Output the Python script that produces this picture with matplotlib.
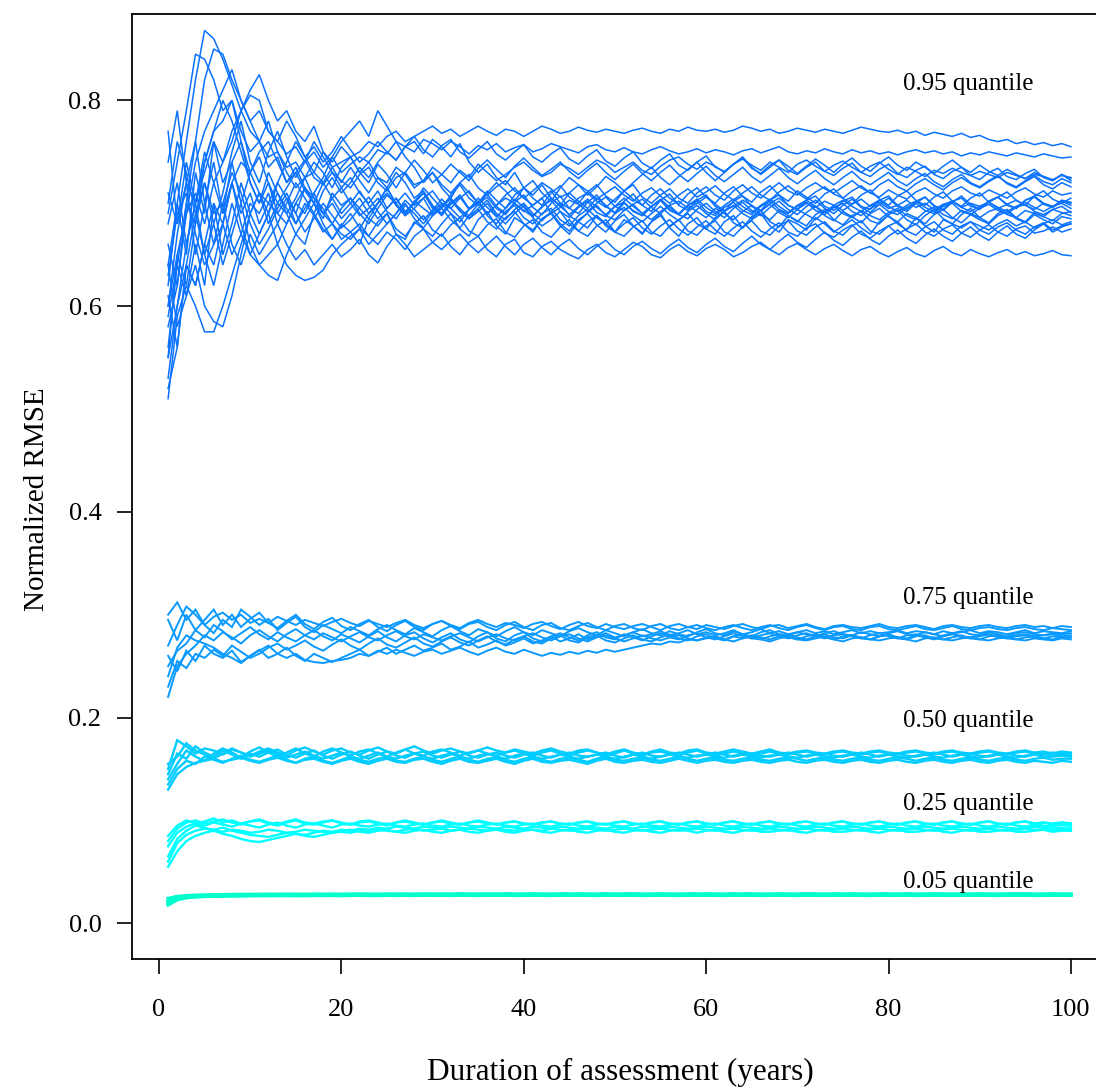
import matplotlib
matplotlib.use("Agg")
import matplotlib.pyplot as plt
import numpy as np

plt.rcParams['font.family'] = ['Liberation Serif', 'DejaVu Serif']

# values, in thousandths (0.05 band in ten-thousandths)
q95_lines = [
    [640, 700, 760, 820, 868, 860, 840, 815, 790, 770,
     760, 745, 750, 735, 740, 725, 730, 720, 735, 740,
     745, 750, 760, 755, 765, 770, 760, 765, 770, 775,
     768, 772, 765, 770, 775, 770, 766, 772, 770, 765,
     770, 775, 772, 768, 770, 774, 771, 769, 772, 770,
     768, 771, 773, 770, 768, 772, 770, 774, 771, 770,
     772, 769, 771, 775, 773, 770, 772, 768, 770, 773,
     771, 769, 772, 770, 768, 771, 774, 772, 770, 769,
     771, 768, 770, 766, 769, 767, 765, 768, 764, 766,
     762, 760, 762, 758, 760, 757, 759, 756, 758, 755],
    [580, 620, 700, 760, 820, 850, 845, 820, 800, 780,
     790, 770, 760, 748, 755, 740, 750, 735, 745, 730,
     738, 745, 740, 752, 748, 760, 755, 750, 762, 758,
     752, 760, 755, 748, 756, 752, 758, 750, 754, 757,
     750, 753, 758, 755, 752, 749, 755, 757, 752, 750,
     754, 750, 748, 752, 755, 751, 748, 750, 753, 749,
     752, 750, 747, 751, 753, 749, 752, 755, 750, 748,
     751, 749, 753, 750, 748, 752, 749, 751, 748, 750,
     747, 750, 752, 749, 751, 748, 750, 746, 749, 747,
     750, 748, 746, 749, 747, 745, 748, 746, 744, 745],
    [690, 740, 790, 845, 840, 820, 790, 800, 770, 750,
     760, 735, 745, 720, 730, 742, 725, 718, 730, 722,
     715, 728, 735, 720, 712, 725, 730, 718, 722, 735,
     728, 720, 732, 725, 738, 730, 722, 728, 735, 740,
     732, 726, 730, 738, 734, 728, 735, 742, 738, 730,
     735, 740, 732, 728, 736, 742, 745, 738, 733, 740,
     736, 730, 738, 743, 737, 732, 740, 735, 730, 738,
     742, 736, 731, 737, 741, 735, 730, 736, 740, 733,
     728, 735, 731, 726, 732, 729, 734, 730, 727, 731,
     728, 725, 730, 727, 724, 728, 726, 723, 727, 725],
    [510, 590, 620, 600, 575, 575, 600, 630, 660, 690,
     710, 700, 690, 705, 680, 695, 710, 690, 700, 685,
     695, 705, 690, 700, 715, 698, 688, 702, 710, 695,
     690, 700, 708, 695, 702, 690, 698, 705, 700, 692,
     698, 705, 690, 696, 703, 699, 692, 700, 706, 697,
     693, 699, 704, 696, 690, 698, 702, 695, 700, 706,
     699, 693, 697, 703, 698, 692, 700, 705, 698, 694,
     700, 696, 702, 698, 693, 699, 704, 697, 701, 695,
     698, 703, 696, 700, 694, 699, 702, 696, 700, 697,
     701, 695, 699, 703, 698, 694, 700, 697, 702, 698],
    [770, 680, 720, 650, 700, 740, 690, 720, 680, 650,
     640, 630, 625, 650, 670, 660, 690, 675, 665, 680,
     672, 660, 685, 678, 690, 670, 665, 682, 675, 668,
     680, 690, 675, 668, 684, 692, 678, 670, 686, 680,
     672, 685, 690, 678, 670, 682, 676, 688, 680, 672,
     684, 678, 670, 682, 690, 676, 668, 680, 686, 675,
     670, 682, 688, 676, 684, 690, 678, 672, 684, 680,
     674, 686, 680, 672, 678, 684, 676, 670, 682, 688,
     680, 674, 686, 678, 672, 684, 680, 676, 682, 678,
     674, 680, 684, 678, 682, 676, 680, 684, 679, 682],
    [560, 640, 700, 680, 720, 690, 700, 660, 640, 670,
     650, 665, 680, 660, 645, 655, 640, 650, 660, 648,
     655, 665, 650, 642, 658, 670, 660, 648, 655, 662,
     670, 658, 650, 662, 668, 655, 648, 660, 665, 652,
     648, 658, 663, 655, 650, 646, 655, 660, 652, 648,
     655, 662, 658, 650, 647, 655, 660, 653, 649, 656,
     660, 655, 648, 652, 658, 662, 655, 650, 657, 661,
     655, 650, 656, 660, 654, 649, 655, 658, 652, 648,
     653, 657, 651, 648, 654, 658, 652, 649, 655, 651,
     648, 652, 655, 650, 653, 649, 651, 654, 650, 649],
    [620, 700, 650, 730, 690, 760, 720, 740, 700, 730,
     710, 690, 720, 705, 690, 715, 700, 685, 710, 698,
     705, 690, 680, 695, 708, 700, 688, 695, 705, 712,
     700, 695, 705, 712, 700, 690, 698, 708, 715, 705,
     698, 705, 712, 700, 695, 705, 710, 702, 696, 704,
     712, 718, 706, 700, 708, 714, 705, 700, 710, 716,
     708, 703, 712, 718, 710, 705, 713, 720, 712, 708,
     715, 720, 714, 710, 716, 722, 715, 710, 718, 723,
     716, 712, 719, 724, 718, 713, 720, 725, 719, 715,
     721, 726, 720, 716, 722, 727, 721, 718, 724, 720],
    [600, 670, 720, 700, 740, 770, 780, 800, 760, 730,
     745, 720, 700, 715, 730, 712, 700, 690, 705, 715,
     700, 688, 695, 705, 692, 685, 698, 690, 680, 692,
     700, 690, 682, 694, 702, 688, 680, 692, 698, 686,
     680, 690, 695, 684, 678, 688, 694, 686, 680, 690,
     696, 688, 682, 690, 697, 689, 683, 692, 698, 690,
     684, 692, 698, 690, 685, 693, 699, 691, 686, 694,
     689, 684, 692, 697, 690, 686, 693, 688, 684, 691,
     695, 688, 684, 692, 696, 689, 685, 693, 690, 686,
     692, 695, 689, 686, 693, 690, 687, 694, 691, 688],
    [660, 620, 690, 710, 680, 720, 740, 760, 790, 810,
     825, 800, 780, 790, 770, 760, 775, 750, 740, 755,
     745, 730, 740, 725, 720, 735, 728, 715, 722, 730,
     718, 710, 720, 728, 715, 708, 716, 722, 712, 705,
     712, 720, 714, 706, 710, 718, 712, 704, 710, 716,
     708, 702, 710, 715, 707, 700, 708, 714, 706, 711,
     717, 709, 703, 710, 716, 708, 703, 711, 717, 710,
     704, 711, 716, 709, 705, 712, 717, 710, 706, 713,
     708, 704, 711, 715, 709, 705, 712, 716, 710, 707,
     713, 709, 705, 711, 715, 709, 706, 712, 708, 710],
    [530, 600, 660, 700, 650, 680, 640, 670, 700, 660,
     640, 650, 660, 640, 630, 625, 628, 635, 650, 660,
     668, 675, 690, 700, 715, 730, 720, 705, 712, 698,
     690, 702, 695, 685, 692, 700, 688, 680, 690, 698,
     686, 678, 684, 692, 680, 673, 682, 688, 678, 672,
     680, 686, 676, 670, 678, 684, 675, 669, 677, 683,
     674, 668, 676, 682, 673, 667, 675, 681, 672, 668,
     676, 680, 671, 667, 674, 679, 670, 666, 673, 678,
     670, 675, 680, 672, 668, 675, 679, 671, 667, 674,
     679, 672, 668, 675, 678, 671, 673, 677, 672, 675],
    [740, 790, 720, 760, 700, 660, 680, 720, 690, 710,
     680, 700, 720, 740, 760, 745, 730, 750, 735, 720,
     735, 722, 710, 725, 715, 700, 710, 698, 705, 690,
     697, 704, 692, 685, 695, 703, 690, 684, 694, 700,
     690, 683, 692, 700, 688, 682, 691, 698, 688, 684,
     693, 699, 690, 684, 692, 698, 689, 685, 694, 700,
     692, 686, 695, 701, 693, 688, 696, 702, 694, 689,
     697, 703, 695, 690, 698, 704, 696, 691, 699, 705,
     697, 692, 700, 706, 698, 693, 701, 707, 699, 694,
     702, 706, 699, 695, 703, 707, 700, 696, 703, 701],
    [520, 560, 640, 620, 660, 640, 680, 650, 670, 700,
     690, 710, 680, 700, 720, 705, 690, 712, 725, 710,
     720, 735, 725, 740, 750, 742, 755, 760, 748, 762,
     755, 745, 758, 740, 730, 738, 725, 718, 730, 715,
     708, 718, 705, 698, 710, 702, 695, 705, 698, 690,
     700, 693, 688, 697, 703, 694, 689, 698, 692, 686,
     695, 690, 684, 692, 698, 689, 684, 693, 688, 682,
     691, 697, 688, 683, 692, 687, 681, 690, 695, 687,
     682, 690, 686, 680, 689, 694, 686, 681, 689, 684,
     680, 688, 692, 685, 681, 689, 684, 680, 687, 685],
    [700, 760, 730, 690, 720, 680, 710, 750, 780, 740,
     720, 750, 770, 745, 725, 740, 760, 745, 730, 715,
     725, 710, 700, 712, 695, 705, 690, 700, 715, 705,
     695, 708, 718, 705, 698, 710, 720, 712, 702, 715,
     722, 710, 702, 715, 725, 718, 708, 716, 726, 720,
     712, 720, 728, 735, 725, 718, 726, 733, 740, 730,
     722, 730, 738, 745, 735, 728, 735, 742, 736, 729,
     736, 743, 737, 730, 738, 744, 736, 731, 739, 745,
     737, 732, 740, 735, 729, 736, 742, 735, 730, 737,
     731, 727, 733, 728, 724, 730, 726, 722, 728, 724],
    [640, 580, 610, 660, 620, 700, 650, 680, 720, 690,
     670, 690, 710, 695, 680, 700, 688, 672, 680, 665,
     672, 680, 668, 660, 672, 665, 655, 668, 675, 662,
     655, 664, 670, 660, 652, 660, 668, 658, 650, 660,
     666, 657, 650, 659, 665, 656, 650, 658, 664, 655,
     650, 658, 663, 656, 651, 659, 665, 657, 652, 660,
     666, 658, 653, 661, 668, 660, 655, 663, 670, 662,
     657, 665, 672, 664, 659, 667, 673, 665, 660, 668,
     674, 666, 661, 669, 675, 668, 663, 671, 677, 669,
     664, 672, 678, 670, 666, 674, 680, 672, 677, 680],
    [550, 650, 690, 740, 770, 790, 810, 830, 800, 780,
     760, 780, 750, 730, 715, 725, 705, 695, 680, 670,
     665, 675, 660, 670, 680, 690, 700, 685, 676, 688,
     695, 684, 676, 688, 694, 682, 675, 686, 692, 680,
     674, 685, 691, 680, 673, 684, 690, 679, 672, 683,
     689, 678, 671, 682, 688, 677, 684, 690, 680, 675,
     686, 692, 681, 676, 687, 693, 682, 677, 688, 683,
     678, 689, 694, 684, 679, 688, 692, 683, 680, 689,
     693, 684, 679, 688, 694, 685, 680, 689, 695, 686,
     681, 690, 694, 686, 682, 691, 687, 683, 690, 692],
    [610, 560, 640, 690, 650, 620, 660, 700, 670, 650,
     670, 690, 660, 680, 700, 690, 710, 725, 745, 760,
     770, 780, 765, 790, 775, 760, 745, 735, 720, 730,
     715, 705, 720, 710, 700, 712, 703, 695, 708, 715,
     705, 698, 710, 717, 706, 700, 711, 718, 707, 701,
     712, 704, 698, 708, 714, 705, 699, 709, 715, 706,
     700, 710, 716, 707, 701, 711, 717, 708, 702, 712,
     706, 700, 709, 714, 705, 699, 708, 713, 704, 698,
     707, 712, 703, 698, 706, 711, 702, 697, 705, 710,
     701, 706, 711, 703, 698, 707, 712, 704, 700, 705],
    [600, 650, 620, 680, 740, 770, 800, 780, 750, 720,
     700, 720, 690, 680, 700, 715, 705, 690, 680, 695,
     705, 695, 685, 700, 710, 698, 690, 702, 695, 688,
     698, 705, 694, 688, 699, 706, 695, 689, 700, 693,
     687, 697, 703, 692, 686, 696, 702, 691, 687, 697,
     701, 692, 688, 697, 703, 693, 689, 698, 702, 692,
     688, 696, 701, 693, 689, 697, 702, 694, 690, 697,
     701, 693, 689, 696, 700, 692, 688, 695, 699, 692,
     689, 696, 700, 693, 690, 697, 700, 692, 689, 695,
     699, 693, 690, 696, 699, 692, 689, 694, 697, 691],
    [550, 600, 640, 620, 660, 700, 680, 720, 740, 730,
     750, 760, 740, 720, 735, 715, 700, 720, 705, 690,
     700, 712, 698, 685, 695, 705, 692, 700, 710, 697,
     688, 699, 706, 694, 700, 709, 697, 690, 701, 708,
     696, 689, 700, 707, 695, 690, 701, 708, 697, 691,
     702, 709, 698, 692, 703, 709, 698, 693, 703, 708,
     697, 692, 702, 707, 697, 693, 703, 708, 698, 694,
     703, 707, 697, 693, 702, 706, 697, 694, 703, 707,
     698, 694, 702, 706, 697, 694, 702, 705, 697, 695,
     702, 706, 698, 695, 703, 706, 699, 696, 702, 700],
    [680, 720, 660, 700, 750, 720, 690, 740, 760, 720,
     700, 730, 710, 690, 705, 725, 740, 730, 715, 735,
     745, 730, 720, 738, 728, 715, 730, 742, 732, 720,
     728, 738, 730, 722, 734, 742, 733, 725, 736, 744,
     735, 727, 733, 740, 731, 724, 732, 739, 730, 723,
     731, 738, 729, 722, 730, 737, 728, 721, 729, 736,
     727, 721, 728, 735, 726, 720, 727, 734, 725, 719,
     726, 732, 724, 718, 725, 731, 723, 718, 724, 730,
     722, 717, 724, 729, 721, 716, 723, 728, 720, 716,
     722, 727, 719, 715, 721, 726, 718, 714, 720, 716],
    [590, 640, 610, 640, 600, 585, 580, 610, 650, 690,
     710, 680, 700, 690, 670, 685, 700, 680, 665, 678,
     690, 676, 668, 682, 690, 675, 668, 680, 688, 674,
     668, 679, 686, 673, 668, 679, 685, 672, 667, 678,
     684, 672, 667, 677, 684, 673, 668, 678, 684, 672,
     668, 677, 683, 672, 668, 678, 684, 673, 669, 678,
     683, 672, 668, 677, 683, 673, 669, 678, 683, 673,
     669, 677, 682, 673, 669, 678, 683, 673, 670, 678,
     682, 673, 669, 677, 682, 674, 670, 678, 682, 674,
     670, 677, 681, 674, 670, 677, 681, 674, 678, 680],
    [710, 680, 740, 700, 730, 760, 740, 770, 790, 805,
     800, 770, 760, 780, 765, 745, 755, 740, 750, 765,
     752, 740, 748, 760, 750, 742, 755, 765, 752, 745,
     756, 762, 750, 744, 752, 760, 748, 742, 750, 757,
     745, 740, 748, 754, 743, 738, 746, 752, 741, 736,
     744, 750, 739, 734, 742, 748, 737, 732, 740, 746,
     735, 731, 738, 744, 734, 729, 737, 742, 732, 728,
     735, 740, 731, 727, 734, 739, 730, 726, 733, 738,
     729, 725, 732, 736, 728, 724, 731, 735, 727, 723,
     730, 734, 726, 723, 729, 733, 725, 722, 728, 722],
    [630, 690, 710, 670, 640, 660, 700, 730, 710, 680,
     660, 675, 695, 710, 690, 672, 685, 700, 688, 676,
     684, 696, 706, 692, 680, 690, 703, 694, 684, 693,
     704, 695, 686, 694, 705, 696, 687, 695, 704, 696,
     688, 696, 705, 697, 689, 697, 704, 696, 689, 697,
     705, 697, 690, 697, 704, 696, 690, 698, 704, 696,
     690, 698, 704, 697, 691, 698, 704, 697, 691, 698,
     703, 697, 691, 698, 703, 697, 692, 698, 703, 697,
     692, 698, 702, 696, 692, 698, 702, 696, 692, 697,
     701, 696, 692, 697, 701, 696, 692, 697, 700, 695],
]

q75_lines = [
    [300, 312, 295, 305, 290, 298, 302, 295, 300, 292,
     296, 292, 298, 294, 290, 295, 292, 289, 293, 296,
     292, 289, 294, 291, 288, 292, 295, 290, 287, 291,
     294, 290, 287, 292, 295, 291, 288, 292, 290, 287,
     291, 293, 289, 286, 290, 293, 289, 287, 291, 288,
     286, 289, 291, 288, 285, 289, 291, 288, 286, 290,
     288, 286, 289, 291, 288, 286, 289, 290, 287, 289,
     291, 288, 286, 289, 290, 288, 287, 289, 291, 288,
     287, 289, 290, 288, 286, 289, 290, 288, 287, 289,
     290, 288, 287, 289, 290, 288, 289, 287, 289, 288],
    [220, 250, 262, 270, 280, 275, 283, 278, 272, 280,
     285, 279, 274, 281, 286, 280, 276, 282, 278, 274,
     279, 283, 278, 275, 280, 284, 279, 276, 281, 278,
     275, 279, 282, 278, 274, 278, 281, 277, 275, 279,
     282, 278, 275, 279, 281, 277, 274, 278, 280, 277,
     274, 277, 280, 277, 275, 278, 280, 277, 275, 278,
     279, 276, 274, 277, 279, 276, 274, 277, 279, 276,
     275, 277, 279, 276, 274, 277, 278, 276, 275, 277,
     278, 276, 274, 277, 278, 276, 275, 277, 278, 276,
     275, 277, 278, 276, 275, 277, 276, 275, 277, 276],
    [260, 245, 265, 255, 270, 262, 258, 265, 254, 260,
     266, 258, 262, 268, 260, 255, 262, 258, 254, 258,
     262, 266, 260, 264, 268, 262, 266, 270, 265, 268,
     272, 266, 269, 274, 268, 271, 275, 270, 273, 277,
     272, 275, 279, 274, 277, 281, 276, 279, 282, 278,
     280, 283, 279, 281, 284, 280, 282, 285, 281, 283,
     280, 282, 285, 281, 283, 286, 282, 284, 281, 283,
     285, 282, 284, 281, 283, 285, 282, 284, 282, 283,
     285, 282, 284, 283, 281, 284, 282, 283, 285, 282,
     284, 283, 281, 283, 285, 282, 284, 283, 282, 284],
    [240, 268, 280, 275, 272, 268, 262, 258, 253, 260,
     265, 270, 262, 258, 262, 256, 254, 253, 255, 256,
     258, 262, 260, 265, 262, 266, 263, 260, 264, 266,
     262, 265, 268, 264, 261, 265, 268, 264, 262, 266,
     263, 260, 263, 261, 264, 262, 265, 263, 266, 264,
     266, 268, 270, 272, 271, 274, 273, 276, 275, 277,
     278, 276, 279, 277, 280, 278, 276, 279, 281, 278,
     276, 279, 281, 278, 277, 280, 278, 276, 279, 281,
     278, 277, 280, 278, 276, 279, 281, 278, 277, 279,
     281, 278, 277, 279, 280, 278, 277, 279, 278, 278],
    [270, 290, 308, 300, 290, 282, 295, 288, 305, 298,
     290, 296, 285, 292, 298, 288, 283, 290, 286, 282,
     288, 284, 280, 286, 290, 285, 281, 287, 283, 279,
     285, 289, 284, 280, 286, 283, 279, 284, 288, 283,
     280, 285, 282, 279, 284, 287, 283, 280, 285, 282,
     279, 283, 286, 282, 280, 284, 281, 279, 283, 286,
     282, 280, 284, 281, 279, 283, 285, 281, 280, 283,
     281, 279, 282, 284, 281, 280, 283, 281, 279, 282,
     284, 281, 280, 283, 281, 279, 282, 284, 281, 280,
     283, 281, 279, 282, 283, 281, 280, 282, 281, 282],
    [250, 265, 272, 285, 278, 290, 284, 276, 282, 288,
     281, 276, 283, 278, 274, 280, 285, 279, 275, 281,
     277, 273, 279, 284, 278, 274, 280, 283, 277, 273,
     278, 282, 276, 273, 279, 283, 277, 274, 280, 283,
     277, 274, 279, 282, 278, 275, 280, 283, 278, 276,
     281, 278, 275, 279, 282, 278, 276, 280, 282, 278,
     276, 279, 282, 279, 277, 280, 282, 279, 277, 280,
     282, 279, 277, 280, 281, 279, 277, 280, 282, 279,
     277, 280, 281, 279, 277, 280, 282, 279, 278, 280,
     281, 279, 278, 280, 281, 279, 280, 281, 279, 280],
    [295, 275, 300, 285, 295, 305, 290, 300, 288, 296,
     302, 292, 287, 294, 300, 291, 286, 293, 297, 289,
     285, 291, 295, 288, 284, 290, 294, 288, 285, 291,
     294, 289, 286, 291, 293, 288, 285, 290, 293, 288,
     285, 290, 292, 287, 285, 289, 292, 288, 285, 289,
     291, 287, 285, 289, 291, 287, 285, 288, 290, 287,
     285, 288, 290, 287, 285, 288, 290, 287, 285, 288,
     290, 287, 285, 288, 289, 286, 285, 288, 289, 286,
     285, 287, 289, 286, 285, 287, 289, 286, 285, 287,
     288, 286, 285, 287, 288, 286, 285, 287, 286, 285],
    [230, 255, 248, 262, 258, 266, 260, 270, 264, 258,
     262, 268, 272, 266, 270, 275, 269, 265, 271, 276,
     270, 266, 272, 277, 271, 268, 273, 278, 272, 269,
     274, 278, 273, 270, 275, 279, 274, 271, 276, 279,
     274, 272, 277, 280, 275, 273, 278, 280, 275, 273,
     277, 280, 276, 274, 278, 281, 277, 275, 279, 281,
     277, 275, 279, 281, 277, 276, 279, 281, 278, 276,
     279, 281, 278, 276, 279, 280, 277, 276, 279, 280,
     277, 276, 279, 280, 277, 276, 278, 280, 277, 276,
     279, 280, 277, 276, 278, 279, 277, 276, 278, 278],
]

q50_lines = [
    [150, 178, 172, 165, 170, 168, 164, 169, 166, 163,
     167, 170, 166, 163, 168, 171, 167, 164, 168, 170,
     166, 164, 168, 171, 167, 165, 169, 172, 168, 165,
     168, 170, 167, 165, 168, 171, 168, 166, 169, 167,
     165, 168, 170, 167, 165, 168, 169, 166, 164, 167,
     169, 166, 164, 167, 169, 166, 165, 168, 169, 166,
     165, 167, 169, 167, 165, 167, 169, 166, 165, 167,
     168, 166, 165, 167, 168, 166, 165, 167, 168, 166,
     165, 167, 168, 166, 165, 167, 168, 166, 165, 167,
     168, 166, 165, 167, 168, 166, 167, 165, 167, 166],
    [130, 145, 152, 156, 158, 160, 157, 159, 161, 158,
     156, 159, 161, 158, 156, 159, 160, 157, 155, 158,
     160, 157, 155, 158, 160, 157, 156, 159, 160, 157,
     155, 158, 160, 157, 156, 158, 160, 157, 155, 158,
     160, 157, 156, 158, 159, 157, 155, 158, 160, 157,
     156, 158, 159, 157, 156, 158, 160, 158, 156, 158,
     159, 157, 156, 158, 159, 157, 156, 158, 159, 157,
     156, 158, 159, 157, 156, 158, 159, 157, 156, 158,
     159, 157, 156, 158, 159, 157, 156, 158, 159, 157,
     156, 158, 159, 157, 156, 158, 157, 156, 158, 157],
    [145, 165, 160, 172, 166, 162, 168, 164, 160, 165,
     162, 166, 169, 164, 161, 165, 168, 163, 160, 164,
     167, 163, 160, 164, 167, 163, 161, 165, 167, 163,
     161, 164, 167, 163, 161, 164, 166, 163, 161, 164,
     166, 163, 161, 164, 166, 163, 162, 164, 166, 163,
     161, 164, 166, 163, 162, 164, 166, 164, 162, 164,
     166, 164, 162, 164, 165, 163, 162, 164, 166, 164,
     162, 164, 165, 163, 162, 164, 166, 164, 162, 164,
     165, 163, 162, 164, 166, 164, 162, 164, 165, 163,
     162, 164, 165, 163, 162, 164, 165, 163, 164, 163],
    [140, 155, 168, 162, 158, 165, 170, 166, 161, 167,
     171, 166, 162, 166, 170, 165, 162, 167, 170, 166,
     163, 167, 169, 165, 162, 166, 169, 165, 163, 167,
     169, 166, 163, 166, 168, 165, 163, 166, 168, 165,
     163, 166, 168, 165, 163, 166, 168, 166, 163, 165,
     168, 165, 163, 166, 167, 165, 163, 166, 168, 165,
     163, 165, 167, 165, 163, 165, 167, 165, 164, 166,
     167, 165, 164, 166, 167, 165, 164, 166, 167, 165,
     164, 166, 167, 165, 164, 166, 167, 165, 164, 166,
     167, 165, 164, 166, 167, 165, 164, 166, 165, 165],
    [135, 150, 158, 155, 162, 159, 156, 160, 163, 159,
     157, 160, 163, 159, 156, 160, 162, 158, 156, 159,
     162, 159, 157, 160, 162, 158, 157, 160, 162, 159,
     157, 160, 162, 159, 157, 160, 161, 159, 157, 160,
     162, 159, 157, 160, 161, 159, 157, 160, 162, 159,
     158, 160, 161, 159, 158, 160, 162, 160, 158, 160,
     161, 159, 158, 160, 161, 159, 158, 160, 161, 160,
     158, 160, 161, 159, 158, 160, 161, 159, 158, 160,
     161, 160, 158, 160, 161, 159, 158, 160, 161, 159,
     158, 160, 161, 159, 158, 160, 161, 159, 160, 160],
    [155, 162, 175, 168, 164, 160, 165, 170, 166, 162,
     165, 168, 164, 161, 164, 167, 163, 160, 163, 166,
     162, 160, 163, 166, 162, 160, 163, 165, 162, 160,
     163, 165, 162, 160, 163, 165, 162, 160, 163, 165,
     162, 160, 162, 164, 162, 160, 162, 164, 162, 160,
     162, 164, 162, 160, 162, 164, 162, 161, 163, 164,
     162, 161, 163, 164, 162, 161, 163, 164, 162, 161,
     163, 164, 162, 161, 163, 164, 162, 161, 163, 164,
     162, 161, 163, 164, 162, 161, 163, 164, 162, 161,
     163, 164, 162, 161, 163, 164, 162, 162, 163, 162],
]

q25_lines = [
    [80, 92, 98, 100, 97, 99, 101, 98, 96, 99,
     100, 97, 95, 98, 100, 97, 96, 98, 100, 97,
     96, 98, 99, 97, 95, 98, 99, 97, 96, 98,
     99, 97, 96, 98, 100, 98, 96, 98, 99, 97,
     96, 98, 99, 97, 96, 98, 99, 97, 96, 98,
     99, 97, 96, 98, 99, 97, 96, 98, 99, 97,
     96, 98, 99, 97, 96, 98, 99, 97, 96, 98,
     99, 97, 96, 98, 99, 97, 96, 98, 99, 97,
     96, 98, 99, 97, 96, 98, 99, 97, 96, 98,
     99, 97, 96, 98, 99, 97, 98, 96, 98, 97],
    [55, 70, 80, 85, 88, 90, 89, 91, 90, 88,
     89, 91, 90, 88, 89, 91, 90, 89, 88, 90,
     91, 89, 88, 90, 91, 89, 88, 90, 91, 89,
     88, 90, 91, 89, 88, 90, 91, 89, 88, 90,
     91, 89, 88, 90, 91, 89, 88, 90, 91, 89,
     88, 90, 91, 89, 88, 90, 91, 90, 88, 90,
     91, 89, 88, 90, 91, 89, 89, 90, 91, 89,
     88, 90, 91, 89, 89, 90, 91, 89, 88, 90,
     91, 89, 89, 90, 91, 89, 88, 90, 91, 89,
     89, 90, 91, 89, 89, 90, 91, 89, 90, 90],
    [65, 82, 90, 95, 93, 90, 87, 85, 82, 80,
     79, 81, 83, 85, 87, 86, 88, 90, 89, 91,
     90, 92, 91, 93, 92, 94, 93, 92, 94, 93,
     92, 94, 93, 92, 94, 93, 92, 94, 93, 92,
     94, 93, 92, 94, 93, 92, 94, 93, 92, 94,
     93, 92, 94, 93, 92, 94, 93, 92, 93, 94,
     93, 92, 93, 94, 93, 92, 93, 94, 93, 92,
     93, 94, 93, 92, 93, 94, 93, 92, 93, 94,
     93, 92, 93, 94, 93, 92, 93, 94, 93, 92,
     93, 94, 93, 92, 93, 94, 93, 92, 93, 93],
    [75, 88, 94, 97, 95, 98, 96, 94, 97, 95,
     93, 96, 98, 95, 93, 96, 97, 95, 93, 96,
     97, 95, 94, 96, 97, 95, 94, 96, 97, 95,
     94, 96, 97, 95, 94, 96, 97, 95, 94, 96,
     97, 95, 94, 96, 97, 95, 94, 96, 97, 95,
     94, 96, 97, 95, 94, 96, 97, 95, 94, 96,
     97, 95, 94, 96, 97, 95, 94, 96, 97, 95,
     94, 96, 97, 95, 94, 96, 97, 95, 94, 96,
     97, 95, 94, 96, 97, 95, 94, 96, 97, 95,
     94, 96, 97, 95, 94, 96, 95, 94, 96, 95],
    [60, 78, 86, 90, 92, 91, 93, 90, 88, 86,
     85, 84, 86, 88, 87, 85, 84, 86, 88, 89,
     88, 90, 89, 91, 90, 89, 91, 92, 90, 91,
     92, 90, 91, 92, 91, 90, 92, 91, 90, 92,
     91, 90, 92, 91, 90, 91, 92, 91, 90, 91,
     92, 91, 90, 91, 92, 91, 90, 91, 92, 91,
     90, 91, 92, 91, 90, 91, 92, 91, 90, 91,
     92, 91, 90, 91, 92, 91, 90, 91, 92, 91,
     90, 91, 92, 91, 90, 91, 92, 91, 90, 91,
     92, 91, 90, 91, 92, 91, 91, 90, 91, 91],
    [85, 95, 100, 97, 99, 102, 98, 100, 97, 99,
     101, 98, 96, 99, 101, 98, 97, 99, 100, 98,
     96, 99, 100, 98, 96, 98, 100, 98, 96, 98,
     100, 98, 96, 98, 99, 97, 96, 98, 99, 97,
     96, 98, 99, 97, 96, 98, 99, 97, 96, 98,
     99, 97, 96, 98, 99, 97, 96, 98, 99, 97,
     96, 98, 99, 97, 96, 98, 99, 97, 96, 98,
     99, 97, 96, 98, 99, 97, 96, 98, 99, 97,
     96, 98, 99, 97, 96, 98, 99, 97, 96, 98,
     99, 97, 96, 98, 99, 97, 98, 97, 98, 97],
]

q05_lines = [
    [180, 230, 250, 258, 262, 265, 266, 268, 268, 270,
     270, 271, 270, 272, 271, 270, 272, 271, 272, 271,
     272, 273, 272, 271, 273, 272, 273, 272, 274, 273,
     273, 272, 274, 273, 272, 274, 273, 274, 272, 273,
     274, 273, 272, 274, 273, 274, 273, 272, 274, 273,
     273, 274, 272, 273, 274, 273, 272, 274, 273, 274,
     273, 272, 274, 273, 274, 272, 273, 274, 273, 272,
     274, 273, 272, 274, 273, 274, 273, 272, 274, 273,
     273, 274, 272, 273, 274, 273, 272, 274, 273, 274,
     273, 272, 274, 273, 274, 272, 273, 274, 273, 273],
    [210, 245, 258, 264, 268, 270, 272, 273, 274, 275,
     276, 275, 277, 276, 277, 276, 278, 277, 276, 277,
     278, 277, 276, 278, 277, 278, 277, 276, 278, 277,
     278, 279, 277, 278, 279, 278, 277, 279, 278, 277,
     279, 278, 277, 279, 278, 279, 278, 277, 279, 278,
     278, 279, 277, 278, 279, 278, 277, 279, 278, 279,
     278, 277, 279, 278, 279, 277, 278, 279, 278, 277,
     279, 278, 277, 279, 278, 279, 278, 277, 279, 278,
     278, 279, 277, 278, 279, 278, 277, 279, 278, 279,
     278, 277, 279, 278, 279, 277, 278, 279, 278, 278],
    [240, 260, 268, 272, 275, 277, 278, 279, 280, 281,
     281, 282, 281, 283, 282, 281, 283, 282, 283, 282,
     283, 284, 283, 282, 284, 283, 284, 283, 285, 284,
     284, 283, 285, 284, 283, 285, 284, 285, 283, 284,
     285, 284, 283, 285, 284, 285, 284, 283, 285, 284,
     284, 285, 283, 284, 285, 284, 283, 285, 284, 285,
     284, 283, 285, 284, 285, 283, 284, 285, 284, 283,
     285, 284, 283, 285, 284, 285, 284, 283, 285, 284,
     284, 285, 283, 284, 285, 284, 283, 285, 284, 285,
     284, 283, 285, 284, 285, 283, 284, 285, 284, 284],
    [200, 238, 252, 260, 264, 266, 268, 269, 270, 271,
     272, 271, 273, 272, 271, 273, 272, 274, 273, 272,
     274, 273, 272, 274, 273, 275, 274, 273, 275, 274,
     275, 274, 276, 275, 274, 276, 275, 274, 276, 275,
     276, 275, 274, 276, 275, 276, 275, 274, 276, 275,
     275, 276, 274, 275, 276, 275, 274, 276, 275, 276,
     275, 274, 276, 275, 276, 274, 275, 276, 275, 274,
     276, 275, 274, 276, 275, 276, 275, 274, 276, 275,
     275, 276, 274, 275, 276, 275, 274, 276, 275, 276,
     275, 274, 276, 275, 276, 274, 275, 276, 275, 275],
]

groups = [q95_lines, q75_lines, q50_lines, q25_lines, q05_lines]
scales = [1000.0, 1000.0, 1000.0, 1000.0, 10000.0]
colors = ['#0A72FF', '#0A99FF', '#00CCFF', '#00FFFF', '#00FFCC']
widths = [1.1, 1.4, 1.7, 1.7, 2.6]
labels = ['0.95 quantile', '0.75 quantile', '0.50 quantile',
          '0.25 quantile', '0.05 quantile']
label_y = [0.810, 0.310, 0.191, 0.110, 0.0344]
label_x = 88.7

fig = plt.figure(figsize=(10.96, 10.90), dpi=100)
ax = fig.add_axes([132/1096, 131/1090, 975/1096, 945/1090])

for lines, sc, col, lw in zip(groups, scales, colors, widths):
    for vals in lines:
        v = np.array(vals) / sc
        yrs = np.arange(1, len(v) + 1)
        ax.plot(yrs, v, color=col, lw=lw, solid_joinstyle='miter')

for lab, yy in zip(labels, label_y):
    ax.text(label_x, yy, lab, ha='center', va='baseline', fontsize=18)

ax.set_xlim(-2.96, 103.96)
ax.set_ylim(-0.0347, 0.884)
ax.set_xticks([0, 20, 40, 60, 80, 100])
ax.set_xticklabels(['0', '20', '40', '60', '80', '100'])
ax.set_yticks([0.0, 0.2, 0.4, 0.6, 0.8])
ax.set_yticklabels(['0.0', '0.2', '0.4', '0.6', '0.8'])
ax.tick_params(axis='both', direction='out', length=11, width=1.2,
               labelsize=19, colors='black')
ax.tick_params(axis='x', pad=18)
ax.tick_params(axis='y', pad=11)
for sp in ax.spines.values():
    sp.set_linewidth(1.3)

fig.text(620/1096, 10/1090, 'Duration of assessment (years)', ha='center',
         va='baseline', fontsize=22.5)
fig.text(37/1096, 1 - 499/1090, 'Normalized RMSE', ha='center', va='center',
         rotation=90, fontsize=21)

fig.savefig('out.png', dpi=100)
